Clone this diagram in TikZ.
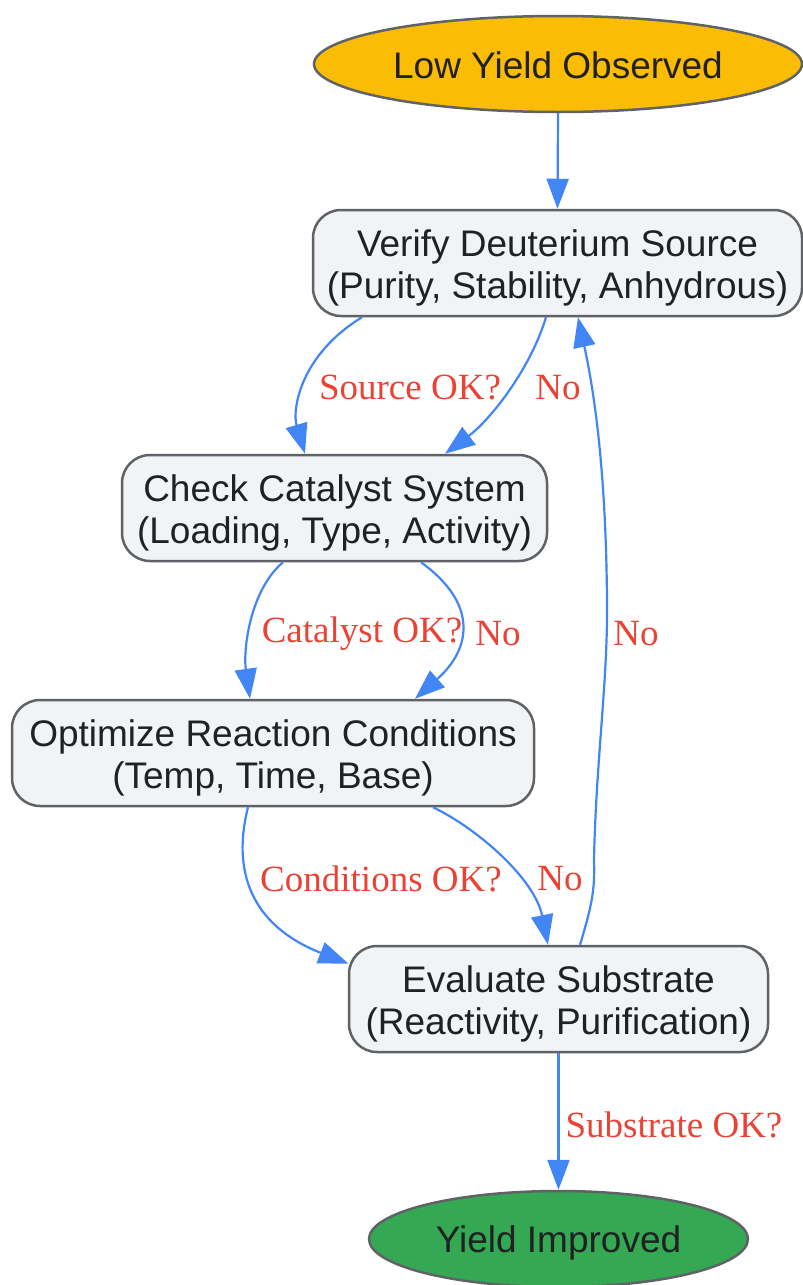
\documentclass[tikz,border=0pt]{standalone}
\usepackage{fontspec}
\setmainfont{Liberation Sans}
\newfontfamily\labelfont{Liberation Serif}
\usetikzlibrary{shapes.geometric,arrows.meta}
\definecolor{gyellow}{HTML}{FBBC05}
\definecolor{ggreen}{HTML}{34A853}
\definecolor{gbox}{HTML}{F1F3F4}
\definecolor{gborder}{HTML}{5F6368}
\definecolor{gblue}{HTML}{4285F4}
\definecolor{gred}{HTML}{EA4335}
\definecolor{gtext}{HTML}{202124}
\newcommand{\twolines}[2]{\raisebox{-6pt}[\height][\depth]{\begin{tabular}{@{}c@{}}#1\\#2\end{tabular}}}
\newcommand{\lowered}[2]{\raisebox{-#1}[\height][\depth]{#2}}
\tikzset{
  stepbox/.style={draw=gborder, line width=2.5pt, fill=gbox, rounded corners=28pt,
    inner sep=0pt, align=center, text=gtext,
    font=\fontsize{37}{42}\selectfont},
  terminal/.style={ellipse, draw=gborder, line width=2.5pt, inner sep=0pt,
    text=gtext, font=\fontsize{37}{42}\selectfont},
  edge/.style={draw=gblue, line width=2.2pt, -{Triangle[length=30pt,width=22pt]}},
  elabel/.style={text=gred, font=\labelfont\fontsize{37}{42}\selectfont, inner sep=0pt}
}
\begin{document}
\begin{tikzpicture}[x=1pt,y=-1pt]
\useasboundingbox (0,0) rectangle (803,1285);
\node[terminal, fill=gyellow, minimum width=488pt, minimum height=96pt] (low) at (558,64) {\lowered{1pt}{Low Yield Observed}};
\node[stepbox, minimum width=489pt, minimum height=106pt] (verify) at (557.5,263) {\twolines{Verify Deuterium Source}{(Purity, Stability, Anhydrous)}};
\node[stepbox, minimum width=425pt, minimum height=106pt] (check) at (334.5,508) {\twolines{Check Catalyst System}{(Loading, Type, Activity)}};
\node[stepbox, minimum width=522pt, minimum height=106pt] (opt) at (273,753) {\twolines{Optimize Reaction Conditions}{(Temp, Time, Base)}};
\node[stepbox, minimum width=419pt, minimum height=106pt] (eval) at (558.5,999) {\twolines{Evaluate Substrate}{(Reactivity, Purification)}};
\node[terminal, fill=ggreen, minimum width=379pt, minimum height=96pt] (yield) at (558.5,1239) {\lowered{4pt}{Yield Improved}};

\draw[edge] (low.south) -- (verify.north);
\draw[edge] ([xshift=-195.5pt]verify.south) .. controls (300,355) and (292,410) .. ([xshift=-29.5pt]check.north);
\draw[edge] ([xshift=-11.5pt]verify.south) .. controls (530,370) and (490,420) .. ([xshift=110.5pt]check.north);
\draw[edge] ([xshift=-51.5pt]check.south) .. controls (250,590) and (243,650) .. ([xshift=-23pt]opt.north);
\draw[edge] ([xshift=86.5pt]check.south) .. controls (480,605) and (470,650) .. ([xshift=142pt]opt.north);
\draw[edge] ([xshift=-25pt]opt.south) .. controls (232,870) and (250,925) .. ([xshift=-210pt,yshift=-19pt]eval.north);
\draw[edge] ([xshift=160pt]opt.south) .. controls (480,830) and (535,880) .. ([xshift=-10.5pt]eval.north);
\draw[edge] ([xshift=21.5pt]eval.north) .. controls (592,905) and (595,890) .. (594,860)
   .. controls (596,760) and (608,680) .. (607,600)
   .. controls (606,480) and (596,400) .. ([xshift=20.5pt]verify.south);
\draw[edge] (eval.south) -- (yield.north);

\node[elabel] (l1) at (410,388) {Source OK?};
\node[elabel] (l2) at (558,388) {No};
\node[elabel] (l3) at (362,634) {Catalyst OK?};
\node[elabel] (l4) at (498,634) {No};
\node[elabel] (l5) at (636,634) {No};
\node[elabel] (l6) at (381,879) {Conditions OK?};
\node[elabel] (l7) at (560,879) {No};
\node[elabel] (l8) at (674,1125) {Substrate OK?};
\end{tikzpicture}
\end{document}
